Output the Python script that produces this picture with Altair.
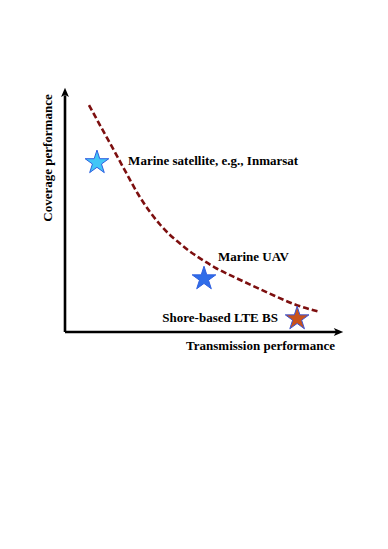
import math
import altair as alt
import pandas as pd

# Curve (trade-off frontier), in data units (0..10 both axes)
curve_x = [0.863, 1.320, 1.763, 2.194, 2.626, 3.058, 3.417, 3.777, 4.137, 4.496,
           4.856, 5.396, 6.115, 6.835, 7.554, 8.273, 9.101]
curve_y = [9.303, 8.348, 7.439, 6.537, 5.656, 4.918, 4.406, 3.975, 3.627, 3.299,
           3.020, 2.643, 2.234, 1.852, 1.475, 1.127, 0.840]

# Systems (stars)
sys_names = ["Marine satellite", "Marine UAV", "Shore-based LTE BS"]
sys_x = [1.15, 5.0, 8.35]
sys_y = [6.97, 2.21, 0.57]
sys_fill = ["#41c6f6", "#2f6de9", "#c9521c"]
sys_stroke = ["#2f5fe0", "#2f5fe0", "#3a55d6"]

# Labels
lab_text = ["Marine satellite, e.g., Inmarsat", "Marine UAV", "Shore-based LTE BS",
            "Transmission performance", "Coverage performance"]
lab_x = [2.27, 5.50, 7.66, 9.71, -0.61]
lab_y = [7.01, 3.07, 0.57, -0.57, 7.13]
lab_align = ["left", "left", "right", "right", "center"]
lab_angle = [0, 0, 0, 0, 270]

FONT = "Liberation Serif"

# five-pointed star symbol as an SVG path in the unit square
_pts = []
for k in range(10):
    r = 1.0 if k % 2 == 0 else 0.382
    a = math.radians(-90 + 36 * k)
    _pts.append(f"{r * math.cos(a):.4f},{r * math.sin(a) + 0.05:.4f}")
STAR = "M" + " L".join(_pts) + " Z"

xs = alt.Scale(domain=[0, 10], nice=False, zero=False)
ys = alt.Scale(domain=[0, 10], nice=False, zero=False)

def X():
    return alt.X("x:Q", scale=xs, axis=None)

def Y():
    return alt.Y("y:Q", scale=ys, axis=None)

layers = []

curve_df = pd.DataFrame({"x": curve_x, "y": curve_y})
line = alt.Chart(curve_df).mark_line(color="#7d0f0f", strokeWidth=2.6,
                                     strokeDash=[6, 3], interpolate="monotone").encode(
    x=X(), y=Y())
layers.append(line)

axes_df = pd.DataFrame({"x": [0.0, 0.0], "y": [0.0, 0.0], "x2": [9.8, 0.0], "y2": [0.0, 9.7]})
axes = alt.Chart(axes_df).mark_rule(color="black", strokeWidth=2.6).encode(
    x=X(), y=Y(), x2="x2:Q", y2="y2:Q")
layers.append(axes)

arrow_path = "M0,-1 L0.75,0.8 L0,0.35 L-0.75,0.8 Z"
arr_df = pd.DataFrame({"x": [0.0, 9.82], "y": [9.8, 0.0], "ang": [0, 90]})
arrows = alt.Chart(arr_df).mark_point(shape=arrow_path, filled=True, size=110,
                                      color="black", opacity=1).encode(
    x=X(), y=Y(), angle=alt.Angle("ang:Q", scale=None))
layers.append(arrows)

for n, x, y, f, s in zip(sys_names, sys_x, sys_y, sys_fill, sys_stroke):
    layers.append(alt.Chart(pd.DataFrame({"x": [x], "y": [y], "n": [n]})).mark_point(
        shape=STAR, filled=True, size=620, fill=f, stroke=s, strokeWidth=1,
        opacity=1).encode(x=X(), y=Y()))

for t, x, y, a, g in zip(lab_text, lab_x, lab_y, lab_align, lab_angle):
    layers.append(alt.Chart(pd.DataFrame({"x": [x], "y": [y], "t": [t]})).mark_text(
        font=FONT, fontWeight="bold", fontSize=13, align=a, baseline="middle",
        angle=g, color="black").encode(x=X(), y=Y(), text="t:N"))

chart = alt.layer(*layers).properties(
    width=278, height=244,
    autosize=alt.AutoSizeParams(type="none"),
    padding={"left": 57, "top": 80, "right": 37, "bottom": 209},
    background="white",
).configure_view(stroke=None)

chart.save("out.html", embed_options={"renderer": "svg", "actions": False})
